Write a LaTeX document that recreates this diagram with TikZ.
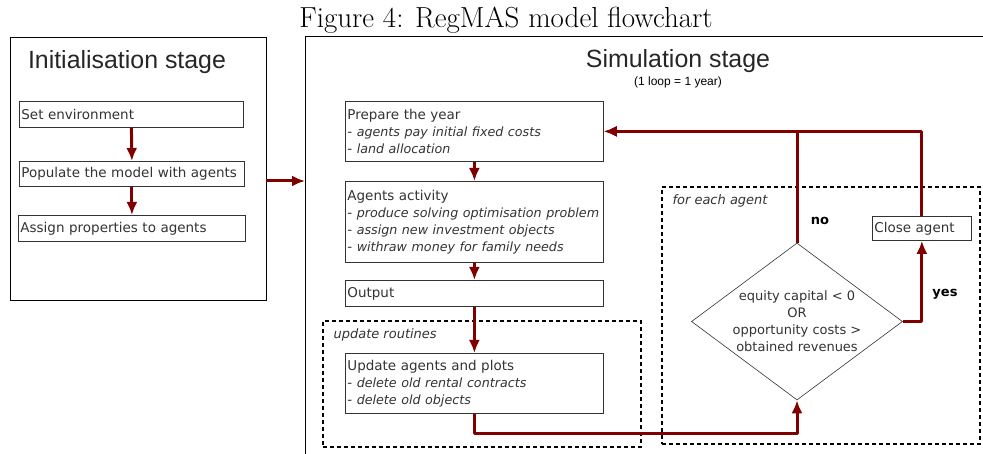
\documentclass[tikz,border=0pt]{standalone}
\usepackage{fontspec}
\usepackage{xcolor}
\usepackage{tikz}
\usetikzlibrary{arrows.meta}
\usetikzlibrary{shapes.geometric}
\newfontfamily\boxfont{DejaVu Sans}
\newfontfamily\headfont{Liberation Sans}
\definecolor{flowred}{RGB}{128,0,0}
\definecolor{boxgray}{RGB}{51,51,51}
\newcommand{\subline}[1]{- {\itshape\fontsize{12.7}{17}\selectfont #1}}

\begin{document}
\begin{tikzpicture}[x=1pt,y=-1pt]
      \tikzstyle{stepbox}=[draw=boxgray,line width=0.8pt,anchor=north west,align=left,inner xsep=2pt,inner ysep=2pt,text=boxgray,font=\boxfont\fontsize{13.5}{17}\selectfont]
      \tikzstyle{frame}=[draw=black,line width=1pt,anchor=north west,inner sep=0pt]
      \tikzstyle{loopframe}=[draw=black,line width=1.6pt,dash pattern=on 4pt off 3pt,anchor=north west,inner sep=0pt]
      \tikzstyle{edge}=[-{Latex[length=13pt,width=11pt]},draw=flowred,line width=3pt,line join=round]
      \tikzstyle{heading}=[font=\headfont\fontsize{24.9}{28}\selectfont,text=black!85]
      \tikzstyle{tag}=[anchor=west,font=\boxfont\itshape\fontsize{13}{16}\selectfont,text=boxgray]
      \tikzstyle{answer}=[font=\boxfont\bfseries\fontsize{13}{16}\selectfont]
      \useasboundingbox (0,0) rectangle (983,454);
      % caption and stage frames
      \node[font=\fontsize{29}{32}\selectfont] (caption) at (506,20) {Figure 4: RegMAS model flowchart};
      \node[frame,minimum width=256pt,minimum height=263pt] (initframe) at (10,37) {};
      \draw[line width=1pt] (305,454) |- (983,37);
      \node[heading] (inittitle) at (127,62) {Initialisation stage};
      \node[heading] (simtitle) at (678,61) {Simulation stage};
      \node[font=\headfont\fontsize{12}{14}\selectfont] (looptag) at (678,82) {(1 loop = 1 year)};
      \node[loopframe,minimum width=318pt,minimum height=126pt] (updframe) at (322,320) {};
      \node[loopframe,minimum width=318pt,minimum height=257pt] (agentframe) at (661,186) {};
      \node[tag] (updtag) at (330,335) {update routines};
      \node[tag] (agenttag) at (669,201) {for each agent};
      % initialisation
      \node[stepbox,minimum height=26pt,text width=220pt] (setenv) at (19,101) {Set environment};
      \node[stepbox,minimum height=25pt,text width=221pt] (populate) at (19,161) {Populate the model with agents};
      \node[stepbox,minimum height=26pt,text width=223pt] (assign) at (18,215) {Assign properties to agents};
      % simulation
      \node[stepbox,minimum height=60pt,text width=254pt] (prep) at (345,101) {Prepare the year\\\subline{agents pay initial fixed costs}\\\subline{land allocation}};
      \node[stepbox,minimum height=81pt,text width=254pt] (activity) at (345,181) {Agents activity\\\subline{produce solving optimisation problem}\\\subline{assign new investment objects}\\\subline{withraw money for family needs}};
      \node[stepbox,minimum height=26pt,text width=254pt] (output) at (345,280) {Output};
      \node[stepbox,minimum height=60pt,text width=254pt] (update) at (345,353) {Update agents and plots\\\subline{delete old rental contracts}\\\subline{delete old objects}};
      \node[stepbox,minimum height=24pt,text width=95pt] (close) at (872,216) {Close agent};
      \node[diamond,draw=boxgray,line width=0.6pt,aspect=1.35,inner sep=-4pt,minimum width=211pt,minimum height=157pt,align=center,text=boxgray,font=\boxfont\fontsize{13}{17}\selectfont] (dec) at (797,321.5) {equity capital < 0\\OR\\opportunity costs >\\obtained revenues};
      \node[answer] (nolabel) at (820,221) {no};
      \node[answer] (yeslabel) at (945,294) {yes};
      \coordinate (initout) at (266,181);
      \coordinate (simin) at (305,181);
      % connectors
      \draw[edge] (setenv.south) -- (populate.north);
      \draw[edge] (populate.south) -- (assign.north);
      \draw[edge] (initout) -- (simin);
      \draw[edge] (prep.south) -- (activity.north);
      \draw[edge] (activity.south) -- (output.north);
      \draw[edge] (output.south) -- (update.north);
      \draw[edge] (update.south) -- ++(0,20) -| (dec.south);
      \draw[edge] (dec.east) -| (close.south);
      \draw[edge] (close.north) |- (prep.east);
      \draw[edge] (dec.north) |- (prep.east);
    \end{tikzpicture}
\end{document}
